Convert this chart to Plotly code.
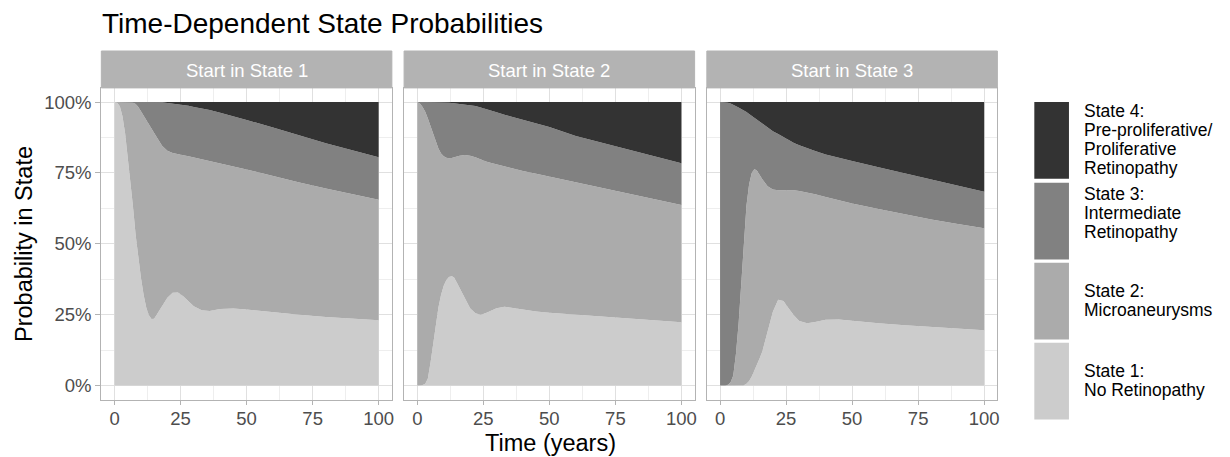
import plotly.graph_objects as go

# ---------------- data (cumulative probability, %) ----------------
TIME = [0, 1, 2, 3, 4, 5, 6, 7, 8, 9, 10, 11, 12, 13, 14, 15, 16, 18, 20, 22,
        24, 26, 28, 30, 33, 36, 40, 45, 50, 60, 70, 80, 90, 100]

PANELS = ["Start in State 1", "Start in State 2", "Start in State 3"]
X_TICKS = [0, 25, 50, 75, 100]
Y_TICKS = [0, 25, 50, 75, 100]
Y_TICK_LABELS = ["0%", "25%", "50%", "75%", "100%"]

STATE_NAMES = ["State 1: No Retinopathy", "State 2: Microaneurysms",
               "State 3: Intermediate Retinopathy",
               "State 4: Pre-proliferative/ Proliferative Retinopathy"]
STATE_COLORS = ["#CCCCCC", "#ABABAB", "#818181", "#333333"]

# Start in State 1
P1_S1 = [100, 99.8, 98.5, 95, 89, 81, 73, 63, 53, 45, 38, 32, 27.5, 24.8, 23.5, 23.6, 25,
         28.2, 31, 32.7, 32.8, 31.5, 29.8, 28, 26.6, 26.3, 27, 27.2, 26.8, 25.8, 25, 24.2, 23.6, 23]
P1_S12 = [100, 100, 100, 100, 100, 100, 100, 99.8, 99.3, 98.3, 96.8, 95.2, 93.6, 92, 90.3, 89, 87.6,
          84.6, 82.8, 82, 81.5, 81.2, 80.9, 80.5, 79.9, 79.3, 78.4, 77.3, 76.2, 73.8, 71.6, 69.5, 67.5, 65.5]
P1_S123 = [100, 100, 100, 100, 100, 100, 100, 100, 100, 100, 100, 100, 100, 100, 100, 100, 100,
           99.9, 99.7, 99.5, 99.3, 99, 98.7, 98.3, 97.8, 97.2, 96.2, 95, 93.7, 91, 88.2, 85.5, 83, 80.5]

# Start in State 2
P2_S1 = [0, 0, 0.2, 0.6, 2.5, 8, 14.5, 21, 27.5, 32, 35.2, 37.2, 38.3, 38.6, 38, 36.3, 34.5,
         30.5, 27.3, 25.5, 25, 25.6, 26.5, 27.3, 27.8, 27.4, 26.7, 26.1, 25.7, 25, 24.3, 23.6, 23, 22.3]
P2_S12 = [100, 99.5, 98.3, 96.6, 94.2, 91.5, 88.7, 86, 83.6, 81.9, 80.9, 80.4, 80.2, 80.3, 80.6, 80.9, 81.1,
          81.3, 81.1, 80.5, 79.7, 79, 78.5, 78, 77.3, 76.6, 75.7, 74.7, 73.7, 71.7, 69.7, 67.7, 65.7, 63.7]
P2_S123 = [100, 100, 100, 100, 100, 100, 100, 100, 100, 100, 99.95, 99.9, 99.8, 99.7, 99.6, 99.5, 99.4,
           99.2, 98.9, 98.6, 98.1, 97.6, 97, 96.4, 95.5, 94.7, 93.7, 92.5, 91.2, 88, 85.6, 83.2, 80.8, 78.4]

# Start in State 3
P3_S1 = [0, 0, 0, 0, 0, 0, 0, 0, 0, 0.1, 0.6, 1.6, 3.2, 5.2, 7.3, 9.6, 12,
         19, 26, 30.3, 29.8, 27.2, 24.7, 22.8, 22, 22.4, 23.2, 23.3, 22.8, 22, 21.3, 20.7, 20.1, 19.5]
P3_S12 = [0, 0, 0, 0.3, 1.2, 3.5, 11, 21.5, 36, 51, 63.5, 71, 75, 76.4, 75.8, 74.3, 72.8,
          70.3, 69.2, 68.9, 68.9, 69, 68.9, 68.6, 68.1, 67.5, 66.5, 65.3, 64.2, 62.3, 60.4, 58.6, 57, 55.5]
P3_S123 = [100, 100, 99.9, 99.8, 99.5, 99.1, 98.6, 98.1, 97.6, 97.1, 96.5, 95.8, 95.1, 94.5, 93.8, 93.1, 92.5,
           91, 89.7, 88.7, 87.6, 86.6, 85.6, 84.8, 83.7, 82.7, 81.5, 80.3, 79.2, 77, 74.9, 72.7, 70.5, 68.4]

TOTAL = [100, 100, 100, 100, 100, 100, 100, 100, 100, 100, 100, 100, 100, 100, 100, 100, 100,
         100, 100, 100, 100, 100, 100, 100, 100, 100, 100, 100, 100, 100, 100, 100, 100, 100]

PANEL_DATA = [
    [P1_S1, P1_S12, P1_S123, TOTAL],
    [P2_S1, P2_S12, P2_S123, TOTAL],
    [P3_S1, P3_S12, P3_S123, TOTAL],
]

LEGEND_LINES = [
    ["State 4:", "Pre-proliferative/", "Proliferative", "Retinopathy"],
    ["State 3:", "Intermediate", "Retinopathy"],
    ["State 2:", "Microaneurysms"],
    ["State 1:", "No Retinopathy"],
]
LEGEND_COLORS = ["#333333", "#818181", "#ABABAB", "#CCCCCC"]

# ---------------- layout helpers ----------------
W, H = 1230, 457
FONT = "Liberation Sans, Arial, sans-serif"


def px(x):
    return x / W


def py(y):
    return 1 - y / H


PANEL_LEFT = [101.5, 404.75, 708.0]
PANEL_W = 291.0
PANEL_TOP, PANEL_BOTTOM = 87.9, 399.7
STRIP_TOP = 51.0

fig = go.Figure()

for i, cum in enumerate(PANEL_DATA):
    ax = "" if i == 0 else str(i + 1)
    for k, (vals, col) in enumerate(zip(cum, STATE_COLORS)):
        fig.add_trace(go.Scatter(
            x=TIME, y=vals, mode="lines", line=dict(width=0, color=col),
            fill="tozeroy" if k == 0 else "tonexty", fillcolor=col,
            name=STATE_NAMES[k], showlegend=False, hoverinfo="skip",
            xaxis="x" + ax, yaxis="y" + ax))

layout = dict(
    width=W, height=H, autosize=False,
    margin=dict(l=0, r=0, t=0, b=0),
    paper_bgcolor="white", plot_bgcolor="white",
    font=dict(family=FONT, color="#000000"),
    showlegend=False,
)

shapes = []
annotations = []

for i in range(3):
    ax = "" if i == 0 else str(i + 1)
    x0 = PANEL_LEFT[i]
    x1 = x0 + PANEL_W
    layout["xaxis" + ax] = dict(
        domain=[px(x0), px(x1)], anchor="y" + ax, range=[-5, 105],
        tickvals=X_TICKS, ticktext=[str(v) for v in X_TICKS],
        showgrid=True, gridcolor="#E0E0E0", gridwidth=1,
        minor=dict(tickvals=[12.5, 37.5, 62.5, 87.5], showgrid=True,
                   gridcolor="#EEEEEE", gridwidth=0.7, ticks=""),
        ticks="outside", ticklen=4, tickwidth=1, tickcolor="#B3B3B3",
        ticklabelstandoff=-2,
        tickfont=dict(size=18.5, color="#4D4D4D", family=FONT),
        showline=True, mirror=True, linecolor="#B3B3B3", linewidth=1.2,
        zeroline=False, fixedrange=True,
    )
    layout["yaxis" + ax] = dict(
        domain=[py(PANEL_BOTTOM), py(PANEL_TOP)], anchor="x" + ax, range=[-5, 105],
        tickvals=Y_TICKS, ticktext=Y_TICK_LABELS if i == 0 else ["" for _ in Y_TICKS],
        showticklabels=(i == 0),
        showgrid=True, gridcolor="#E0E0E0", gridwidth=1,
        minor=dict(tickvals=[12.5, 37.5, 62.5, 87.5], showgrid=True,
                   gridcolor="#EEEEEE", gridwidth=0.7, ticks=""),
        ticks="outside" if i == 0 else "", ticklen=5, tickwidth=1, tickcolor="#B3B3B3",
        tickfont=dict(size=18.5, color="#4D4D4D", family=FONT),
        showline=True, mirror=True, linecolor="#B3B3B3", linewidth=1.2,
        zeroline=False, fixedrange=True,
    )
    # strip
    shapes.append(dict(type="rect", xref="paper", yref="paper",
                       x0=px(x0), x1=px(x1), y0=py(PANEL_TOP), y1=py(STRIP_TOP),
                       fillcolor="#B3B3B3", line=dict(color="#B3B3B3", width=1), layer="above"))
    annotations.append(dict(text=PANELS[i], xref="paper", yref="paper",
                            x=px((x0 + x1) / 2), y=py(70), xanchor="center", yanchor="middle",
                            showarrow=False, font=dict(size=18.5, color="white", family=FONT)))

# title
annotations.append(dict(text="Time-Dependent State Probabilities", xref="paper", yref="paper",
                        x=px(100), y=py(23.5), xanchor="left", yanchor="middle", showarrow=False,
                        font=dict(size=28, color="black", family=FONT)))
# axis titles
annotations.append(dict(text="Time (years)", xref="paper", yref="paper",
                        x=px(551), y=py(443), xanchor="center", yanchor="middle", showarrow=False,
                        font=dict(size=23.5, color="black", family=FONT)))
annotations.append(dict(text="Probability in State", xref="paper", yref="paper",
                        x=px(24), y=py(244), xanchor="center", yanchor="middle", showarrow=False,
                        textangle=-90, font=dict(size=23.5, color="black", family=FONT)))

# legend (drawn manually)
KEY_X0, KEY_X1 = 1036, 1070.7
KEY_TOPS = [102, 182.7, 262.7, 342.7]
KEY_H = 76.7
LINE_CENTERS = [
    [111.4, 130.4, 149.4, 168.4],
    [193.7, 212.7, 231.7],
    [290.7, 309.7],
    [371, 390],
]
for j in range(4):
    shapes.append(dict(type="rect", xref="paper", yref="paper",
                       x0=px(KEY_X0), x1=px(KEY_X1), y0=py(KEY_TOPS[j] + KEY_H), y1=py(KEY_TOPS[j]),
                       fillcolor=LEGEND_COLORS[j], line=dict(width=0)))
    for line_text, yc in zip(LEGEND_LINES[j], LINE_CENTERS[j]):
        annotations.append(dict(text=line_text, xref="paper", yref="paper",
                                x=px(1084), y=py(yc), xanchor="left", yanchor="middle",
                                showarrow=False, font=dict(size=17.5, color="black", family=FONT)))

layout["shapes"] = shapes
layout["annotations"] = annotations
fig.update_layout(**layout)

# remove the browser's default page margin so the figure sits at (0, 0)
fig.write_html("out.html", config={"displayModeBar": False},
               post_script="document.body.style.margin='0px';")
